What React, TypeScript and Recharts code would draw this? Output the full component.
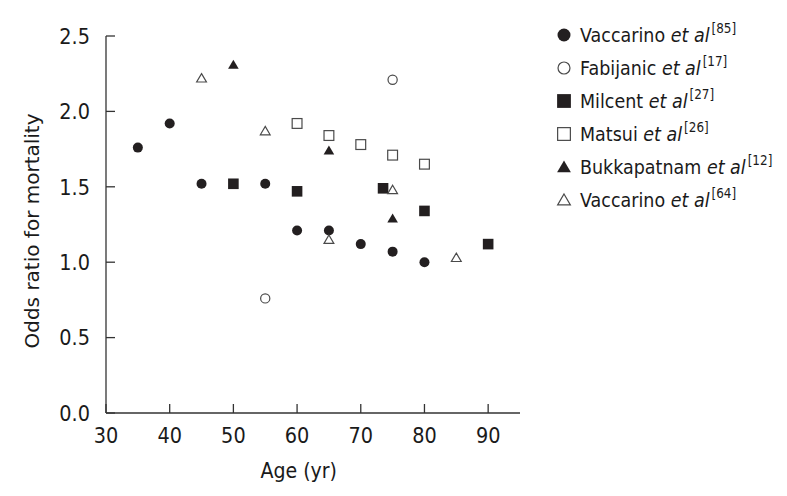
import React from 'react';
import { ScatterChart, Scatter, XAxis, YAxis, Label } from 'recharts';

const xTicks = [30, 40, 50, 60, 70, 80, 90];
const yTicks = [0, 0.5, 1.0, 1.5, 2.0, 2.5];

const vaccarino85 = [
  { x: 35, y: 1.76 }, { x: 40, y: 1.92 }, { x: 45, y: 1.52 }, { x: 55, y: 1.52 },
  { x: 60, y: 1.21 }, { x: 65, y: 1.21 }, { x: 70, y: 1.12 }, { x: 75, y: 1.07 }, { x: 80, y: 1.0 },
];
const fabijanic17 = [{ x: 55, y: 0.76 }, { x: 75, y: 2.21 }];
const milcent27 = [
  { x: 50, y: 1.52 }, { x: 60, y: 1.47 }, { x: 73.5, y: 1.49 }, { x: 80, y: 1.34 }, { x: 90, y: 1.12 },
];
const matsui26 = [
  { x: 60, y: 1.92 }, { x: 65, y: 1.84 }, { x: 70, y: 1.78 }, { x: 75, y: 1.71 }, { x: 80, y: 1.65 },
];
const bukkapatnam12 = [{ x: 50, y: 2.31 }, { x: 65, y: 1.74 }, { x: 75, y: 1.29 }];
const vaccarino64 = [
  { x: 45, y: 2.22 }, { x: 55, y: 1.87 }, { x: 65, y: 1.15 }, { x: 75, y: 1.48 }, { x: 85, y: 1.03 },
];

const seriesNames = ['Vaccarino', 'Fabijanic', 'Milcent', 'Matsui', 'Bukkapatnam', 'Vaccarino'];
const seriesRefs = ['[85]', '[17]', '[27]', '[26]', '[12]', '[64]'];

const DARK = '#231f20';
const OPEN = '#4a4a4a';
const TEXT = '#1a1a1a';
const FONT = '"DejaVu Sans", Verdana, sans-serif';
const STRETCH = 1.12;

type Kind = 'fc' | 'oc' | 'fs' | 'os' | 'ft' | 'ot';
const kinds: Kind[] = ['fc', 'oc', 'fs', 'os', 'ft', 'ot'];

function Marker({ kind, cx, cy, s = 1 }: { kind: Kind; cx: number; cy: number; s?: number }) {
  switch (kind) {
    case 'fc':
      return <circle cx={cx} cy={cy} r={5 * s} fill={DARK} />;
    case 'oc':
      return <circle cx={cx} cy={cy} r={4.6 * s} fill="#fff" stroke={OPEN} strokeWidth={1.2} />;
    case 'fs':
      return <rect x={cx - 5.3 * s} y={cy - 5.3 * s} width={10.6 * s} height={10.6 * s} fill={DARK} />;
    case 'os':
      return (
        <rect
          x={cx - 4.9 * s}
          y={cy - 4.9 * s}
          width={9.8 * s}
          height={9.8 * s}
          fill="#fff"
          stroke={OPEN}
          strokeWidth={1.2}
        />
      );
    case 'ft':
      return (
        <polygon
          points={`${cx},${cy - 5 * s} ${cx + 5.3 * s},${cy + 4 * s} ${cx - 5.3 * s},${cy + 4 * s}`}
          fill={DARK}
        />
      );
    case 'ot':
      return (
        <polygon
          points={`${cx},${cy - 4.6 * s} ${cx + 4.9 * s},${cy + 3.8 * s} ${cx - 4.9 * s},${cy + 3.8 * s}`}
          fill="#fff"
          stroke={OPEN}
          strokeWidth={1.2}
        />
      );
  }
  return null;
}

const makeShape = (kind: Kind) => (props: any) => <Marker kind={kind} cx={props.cx} cy={props.cy} />;

function XTick(props: any) {
  const { x, y, payload } = props;
  return (
    <g transform={`translate(${x},${y}) scale(1,${STRETCH})`}>
      <text x={0} y={0} dy="0.71em" textAnchor="middle" fontSize={19.3} fontFamily={FONT} fill={TEXT}>
        {payload.value}
      </text>
    </g>
  );
}

function YTick(props: any) {
  const { x, y, payload } = props;
  return (
    <g transform={`translate(${x},${y}) scale(1,${STRETCH})`}>
      <text x={0} y={0} dy="0.36em" textAnchor="end" fontSize={19.3} fontFamily={FONT} fill={TEXT}>
        {Number(payload.value).toFixed(1)}
      </text>
    </g>
  );
}

function LegendBox() {
  return (
    <div
      style={{
        position: 'absolute',
        left: 554.7,
        top: 18.5,
        fontFamily: FONT,
        fontSize: 17.5,
        color: TEXT,
      }}
    >
      {seriesNames.map((n, i) => (
        <div key={i} style={{ height: 33, display: 'flex', alignItems: 'center', whiteSpace: 'nowrap' }}>
          <svg width={18} height={18} style={{ marginRight: 7.3, flex: 'none' }}>
            <Marker kind={kinds[i]} cx={9} cy={9} s={1.3} />
          </svg>
          <span style={{ display: 'inline-block', transform: `scaleY(${STRETCH + 0.03})`, transformOrigin: 'center' }}>
            {n} <i>et al</i>
            <sup style={{ fontSize: 12, verticalAlign: 'top', position: 'relative', top: -3, marginLeft: 2 }}>
              {seriesRefs[i]}
            </sup>
          </span>
        </div>
      ))}
    </div>
  );
}

const seriesData = [vaccarino85, fabijanic17, milcent27, matsui26, bukkapatnam12, vaccarino64];

export default function App() {
  return (
    <div style={{ position: 'absolute', left: 0, top: 0, width: 787, height: 496, background: '#fff' }}>
      <ScatterChart width={787} height={496} margin={{ top: 36, right: 267, bottom: 0, left: 0 }}>
        <XAxis
          type="number"
          dataKey="x"
          domain={[30, 95]}
          ticks={xTicks}
          height={83}
          tickSize={-9}
          tickMargin={24}
          axisLine={{ stroke: '#333', strokeWidth: 1.3 }}
          tickLine={{ stroke: '#333', strokeWidth: 1.3 }}
          tick={<XTick />}
          interval={0}
        >
          <Label
            content={() => (
              <g transform={`translate(298.7,478) scale(1,${STRETCH})`}>
                <text x={0} y={0} textAnchor="middle" fontSize={19} fontFamily={FONT} fill={TEXT}>
                  Age (yr)
                </text>
              </g>
            )}
          />
        </XAxis>
        <YAxis
          type="number"
          dataKey="y"
          domain={[0, 2.5]}
          ticks={yTicks}
          width={106}
          tickSize={-9}
          tickMargin={25}
          axisLine={{ stroke: '#333', strokeWidth: 1.3 }}
          tickLine={{ stroke: '#333', strokeWidth: 1.3 }}
          tick={<YTick />}
          interval={0}
        >
          <Label
            content={() => (
              <text
                x={39}
                y={231}
                transform="rotate(-90 39 231)"
                textAnchor="middle"
                fontSize={20}
                fontFamily={FONT}
                fill={TEXT}
              >
                Odds ratio for mortality
              </text>
            )}
          />
        </YAxis>
        {seriesData.map((d, i) => (
          <Scatter
            key={i}
            name={seriesNames[i] + seriesRefs[i]}
            data={d}
            shape={makeShape(kinds[i])}
            isAnimationActive={false}
          />
        ))}
      </ScatterChart>
      <LegendBox />
    </div>
  );
}
